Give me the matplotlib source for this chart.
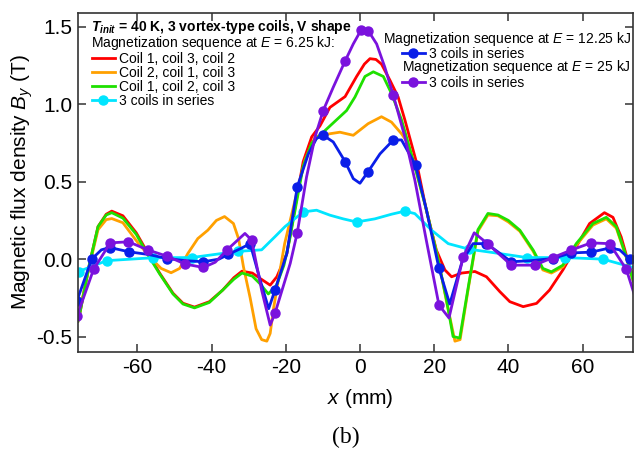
import matplotlib
matplotlib.use("Agg")
import matplotlib.pyplot as plt

plt.rcParams['font.family'] = ['Liberation Sans', 'DejaVu Sans']
plt.rcParams['mathtext.fontset'] = 'custom'
plt.rcParams['mathtext.rm'] = 'Liberation Sans'
plt.rcParams['mathtext.it'] = 'Liberation Sans:italic'
plt.rcParams['mathtext.bf'] = 'Liberation Sans:italic:bold'
plt.rcParams['axes.unicode_minus'] = False

# E = 6.25 kJ, coil 1, coil 3, coil 2
red_x = [-76, -75.5, -72.9, -70.6, -68.4, -66.9, -63.9, -60.3, -57.2, -54, -50.4, -47.7, -44.6,
         -40.6, -37, -34, -31.8, -29, -26.9, -24.2, -22.4, -19.7, -17, -15.3, -13, -10.8, -8.1,
         -4, -0.9, 1.2, 2.7, 4.3, 5.8, 8.1, 10.3, 12.1, 15.3, 17.9, 20.6, 22.9, 24.7, 27.4, 31,
         34.1, 37.7, 40.4, 44, 47.6, 51.1, 54.7, 58.3, 61.9, 65.9, 68.2, 70.4, 72.7, 74.5]
red_y = [-0.40, -0.35, -0.03, 0.21, 0.29, 0.31, 0.28, 0.17, 0.04, -0.09, -0.22, -0.285, -0.31,
         -0.275, -0.2, -0.12, -0.078, -0.09, -0.125, -0.168, -0.114, 0.036, 0.40, 0.63, 0.79, 0.86,
         0.98, 1.05, 1.18, 1.26, 1.295, 1.29, 1.26, 1.155, 1.047, 0.90, 0.62, 0.316, 0.058, -0.07,
         -0.114, -0.09, -0.08, -0.114, -0.21, -0.275, -0.307, -0.286, -0.2, -0.07, 0.08, 0.23,
         0.30, 0.27, 0.144, -0.05, -0.17]

# E = 6.25 kJ, coil 2, coil 1, coil 3
orange_x = [-76, -75.5, -72.9, -70.6, -68.4, -66.9, -63.9, -60.3, -56.7, -53.6, -50.9, -48.6,
            -46.4, -43.7, -41, -38.7, -36.5, -34.1, -32.7, -31.4, -29.6, -28, -26.5, -25.1, -24.2,
            -23.3, -22, -20.3, -17.5, -14.8, -12.1, -8.1, -5.4, -1.8, 2.2, 5.8, 8.5, 11.2, 13,
            14.8, 17.9, 21.1, 23.3, 25.6, 27, 29.2, 31.8, 34.5, 37.2, 40, 43.1, 46.7, 49.3, 51.6,
            54.7, 58.3, 62.8, 66.4, 69.1, 71.8, 73.6, 74.5]
orange_y = [-0.38, -0.33, -0.04, 0.19, 0.255, 0.262, 0.235, 0.12, 0.015, -0.06, -0.088, -0.06,
            0.036, 0.133, 0.187, 0.25, 0.275, 0.23, 0.13, -0.05, -0.25, -0.45, -0.52, -0.53,
            -0.48, -0.32, -0.135, 0.1, 0.38, 0.64, 0.79, 0.81, 0.82, 0.80, 0.875, 0.92, 0.885,
            0.81, 0.746, 0.6, 0.32, 0.0, -0.27, -0.53, -0.52, -0.19, 0.18, 0.285, 0.28, 0.24,
            0.18, 0.05, -0.07, -0.09, -0.05, 0.09, 0.22, 0.26, 0.2, 0.01, -0.14, -0.17]

# E = 6.25 kJ, coil 1, coil 2, coil 3
green_x = [-76, -75.5, -72.9, -70.6, -68.4, -66.9, -63.9, -60.3, -57.2, -54, -50.4, -47.7, -44.6,
           -40.6, -37, -34, -31.8, -29, -26.9, -24.7, -22.5, -20.5, -19, -17, -15.3, -13, -10.8,
           -7.2, -3.6, -1.35, 1.35, 3.6, 6.3, 8.5, 11.2, 14.8, 17.9, 21.1, 23.3, 25.1, 26.9, 29.2,
           31.8, 34.5, 37.2, 40, 43.1, 46.7, 49.3, 51.6, 54.7, 58.3, 62.8, 66.4, 69.1, 71.8, 73.6,
           74.5]
green_y = [-0.40, -0.35, -0.03, 0.21, 0.285, 0.30, 0.265, 0.16, 0.03, -0.095, -0.225, -0.29,
           -0.315, -0.28, -0.2, -0.13, -0.09, -0.11, -0.16, -0.225, -0.17, -0.04, 0.12, 0.38,
           0.60, 0.75, 0.80, 0.88, 0.96, 1.047, 1.18, 1.21, 1.18, 1.07, 0.90, 0.60, 0.32, -0.006,
           -0.26, -0.50, -0.51, -0.18, 0.19, 0.295, 0.285, 0.25, 0.187, 0.058, -0.06, -0.082,
           -0.039, 0.10, 0.23, 0.27, 0.21, 0.015, -0.135, -0.17]

# E = 6.25 kJ, 3 coils in series
cyan_x = [-75.8, -68.3, -55.7, -45.4, -33, -26.5, -22.9, -20.2, -15.3, -11.7, -8.1, -4.5, -0.9,
          4, 8.5, 12.1, 14.8, 19.3, 23.8, 29.4, 34.5, 45, 55.2, 65.5, 73.6, 75]
cyan_y = [-0.08, -0.01, 0.009, 0.01, 0.05, 0.06, 0.145, 0.21, 0.305, 0.316, 0.284, 0.26, 0.24,
          0.26, 0.29, 0.31, 0.294, 0.187, 0.1, 0.064, 0.047, 0.01, 0.01, 0.0, -0.054, -0.06]
cyan_marks = [0, 1, 2, 3, 4, 8, 12, 15, 19, 21, 22, 23]

# E = 12.25 kJ, 3 coils in series
blue_x = [-76.3, -72.3, -69.7, -67.4, -62.2, -57, -52, -47, -42.2, -38, -35.5, -32, -29.6, -26.9,
          -24.6, -22.9, -19.7, -16.9, -13.9, -11.7, -9.9, -7.2, -4, -1.8, 0, 2.2, 5.4, 9, 11.2,
          15, 17.9, 21.3, 24.2, 27.6, 30.5, 34.1, 37, 40.8, 46, 52, 56.9, 62.3, 67.3, 70, 72.7,
          74.5]
blue_y = [-0.27, 0.0, 0.06, 0.075, 0.047, 0.03, 0.004, -0.01, -0.017, 0.0, 0.03, 0.07, 0.1,
          -0.135, -0.32, -0.2, 0.036, 0.467, 0.68, 0.78, 0.80, 0.757, 0.63, 0.52, 0.49, 0.565,
          0.68, 0.77, 0.77, 0.606, 0.32, -0.06, -0.29, -0.01, 0.1, 0.1, 0.05, -0.017, -0.01,
          0.004, 0.04, 0.045, 0.072, 0.06, 0.0, -0.04]
blue_marks = [0, 1, 3, 4, 6, 8, 10, 12, 15, 17, 20, 22, 25, 27, 29, 31, 35, 37, 39, 40, 41, 42, 44]

# E = 25 kJ, 3 coils in series
purple_x = [-76.3, -71.8, -67.3, -62.4, -57, -52, -47.1, -42.2, -39, -35.9, -31, -29.2, -26.5,
            -24.2, -22.9, -18.8, -16.9, -14.4, -12.1, -9.9, -7.2, -4, -1.8, 0.3, 2.3, 4.5, 6.7,
            9, 12.1, 14.8, 17.9, 21.3, 24, 27.8, 30.8, 34.4, 40.8, 47.1, 52, 56.9, 62.3, 67.3,
            71.8, 74.5]
purple_y = [-0.37, -0.066, 0.105, 0.112, 0.058, 0.019, -0.032, -0.054, -0.02, 0.058, 0.166,
            0.123, -0.2, -0.426, -0.35, -0.028, 0.17, 0.53, 0.79, 0.96, 1.11, 1.28, 1.39, 1.48,
            1.473, 1.39, 1.24, 1.058, 0.79, 0.51, 0.12, -0.297, -0.38, 0.012, 0.17, 0.10, -0.039,
            -0.039, 0.01, 0.058, 0.105, 0.10, -0.066, -0.27]
purple_marks = [0, 1, 2, 3, 4, 5, 6, 7, 9, 11, 14, 16, 19, 21, 23, 24, 27, 31, 33, 35, 36, 37,
                38, 39, 40, 41, 42]

fig = plt.figure(figsize=(6.34, 4.5), dpi=100)
ax = fig.add_axes([78 / 634, 1 - 352 / 450, 555 / 634, 339 / 450])

lw = 2.0
ms = 6.5
l_red, = ax.plot(red_x, red_y, color='#ff0000', lw=lw, label='Coil 1, coil 3, coil 2')
l_orange, = ax.plot(orange_x, orange_y, color='#ffa000', lw=lw, label='Coil 2, coil 1, coil 3')
l_green, = ax.plot(green_x, green_y, color='#1ee000', lw=lw, label='Coil 1, coil 2, coil 3')
l_cyan, = ax.plot(cyan_x, cyan_y, color='#00e5ff', lw=lw, marker='o', ms=ms,
                  markevery=cyan_marks, label='3 coils in series')
l_blue, = ax.plot(blue_x, blue_y, color='#0a1ee8', lw=lw, marker='o', ms=ms,
                  markevery=blue_marks, label='3 coils in series')
l_purple, = ax.plot(purple_x, purple_y, color='#7a12dd', lw=lw, marker='o', ms=ms,
                    markevery=purple_marks, label='3 coils in series')

ax.set_xlim(-76, 73.6)
ax.set_ylim(-0.6, 1.59)
ax.set_xticks([-60, -40, -20, 0, 20, 40, 60])
ax.set_yticks([-0.5, 0.0, 0.5, 1.0, 1.5])
ax.set_yticklabels(['-0.5', '0.0', '0.5', '1.0', '1.5'])
ax.tick_params(direction='in', length=6, width=1.1, top=True, right=True,
               labelsize=15, pad=4, color='#333333')
for s in ax.spines.values():
    s.set_color('#333333')
    s.set_linewidth(1.2)

ax.set_ylabel('Magnetic flux density $B_y$ (T)', fontsize=15)
ax.yaxis.set_label_coords(-0.078, 0.5)
ax.set_xlabel('$x$ (mm)', fontsize=15)
ax.xaxis.set_label_coords((360 - 78) / 555, -(398 - 352) / 339)
ax.xaxis.label.set_va('center')

# header lines of the legend blocks
fig.text(91 / 634, 1 - 27 / 450, r'$\mathbf{T}_{\mathbf{init}}$ = 40 K, 3 vortex-type coils, V shape',
         fontsize=10, fontweight='bold', va='center', ha='left')
fig.text(91 / 634, 1 - 43 / 450, 'Magnetization sequence at $E$ = 6.25 kJ:',
         fontsize=10, va='center', ha='left')
fig.text(383 / 634, 1 - 39 / 450, 'Magnetization sequence at $E$ = 12.25 kJ',
         fontsize=10, va='center', ha='left')
fig.text(402 / 634, 1 - 67 / 450, 'Magnetization sequence at $E$ = 25 kJ',
         fontsize=10, va='center', ha='left')

leg_kw = dict(loc='upper left', frameon=False, fontsize=10, borderpad=0, borderaxespad=0,
              handlelength=1.65, handletextpad=0.3, labelspacing=0.0, numpoints=1,
              bbox_transform=fig.transFigure)
leg1 = ax.legend(handles=[l_red, l_orange, l_green, l_cyan],
                 bbox_to_anchor=(92 / 634, 1 - 52 / 450), **leg_kw)
ax.add_artist(leg1)
leg2 = ax.legend(handles=[l_blue], bbox_to_anchor=(402 / 634, 1 - 47 / 450), **leg_kw)
ax.add_artist(leg2)
ax.legend(handles=[l_purple], bbox_to_anchor=(402 / 634, 1 - 76 / 450), **leg_kw)

fig.text(346 / 634, 1 - 437 / 450, '(b)', fontsize=17, family='Liberation Serif',
         ha='center', va='center')

fig.savefig('out.png', dpi=100)
